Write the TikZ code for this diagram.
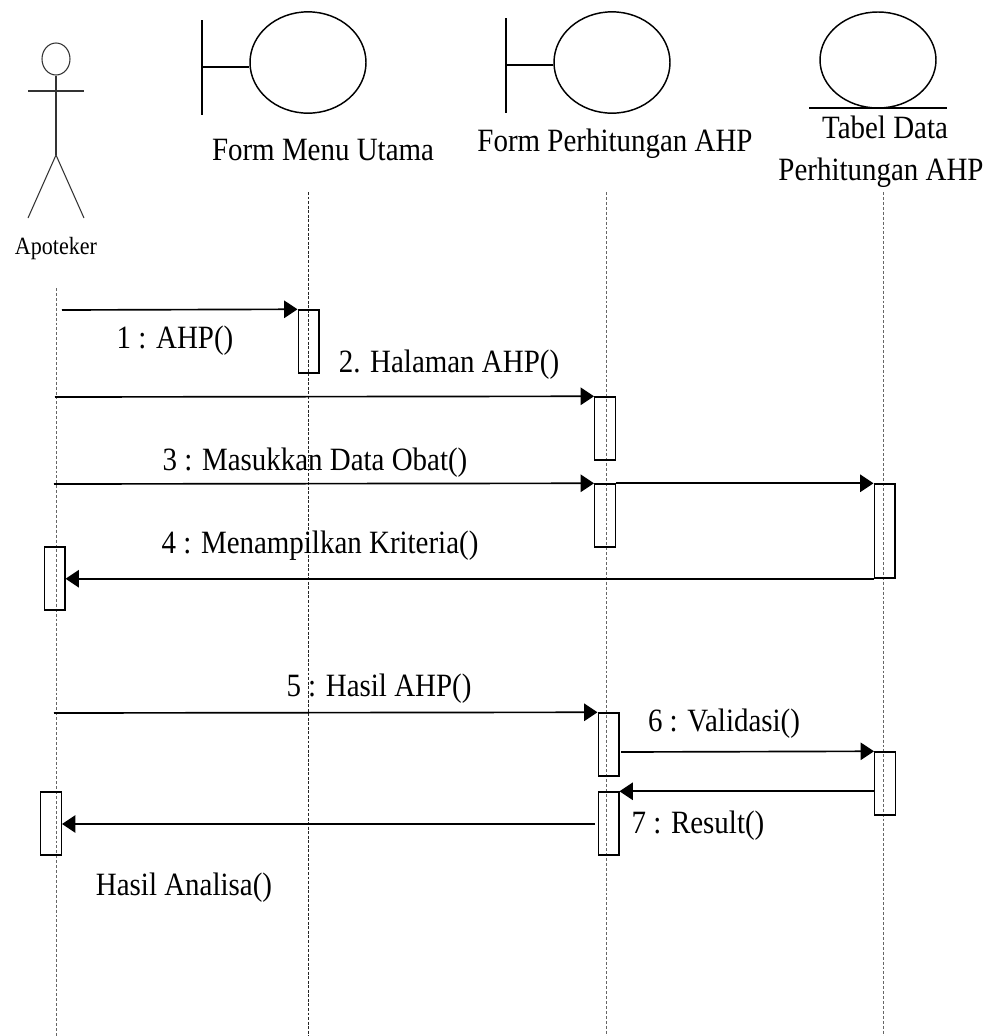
\documentclass[tikz,border=0pt]{standalone}
\usepackage{fontspec}
\setmainfont[FakeStretch=0.89]{Liberation Serif}
\usetikzlibrary{arrows.meta,shapes.geometric}
\tikzset{
  x=0.75pt,y=-0.75pt,
  life/.style={line width=0.6pt,dash pattern=on 2.2pt off 1.5pt,draw=black!60},
  lifedark/.style={line width=0.45pt,dash pattern=on 2.2pt off 1.2pt,draw=black!85},
  box/.style={draw,line width=1.1pt,minimum width=15.4pt,inner sep=0pt,fill=none},
  msg/.style={line width=1.25pt,-{Triangle[length=10pt,width=13pt]}},
  shapeline/.style={line width=1.1pt},
  actorline/.style={line width=0.8pt,draw=black!80},
  lbl/.style={anchor=base,inner sep=0pt,font=\fontsize{24.4pt}{28pt}\selectfont},
  small/.style={anchor=base,inner sep=0pt,font=\fontsize{18.6pt}{22pt}\selectfont},
}
\begin{document}
\begin{tikzpicture}
\useasboundingbox (0,0) rectangle (997,1036);
% lifelines
\coordinate (l1a) at (56,288); \coordinate (l1b) at (56,1036);
\coordinate (l2a) at (308.5,192); \coordinate (l2b) at (308.5,1036);
\coordinate (l3a) at (606.5,192); \coordinate (l3b) at (606.5,1036);
\coordinate (l4a) at (883,192); \coordinate (l4b) at (883,1036);
\draw[life] (l1a) -- (l1b);
\draw[lifedark] (l2a) -- (l2b);
\draw[life] (l3a) -- (l3b);
\draw[life] (l4a) -- (l4b);
% actor
\node[draw=black!80,line width=0.8pt,ellipse,minimum width=21pt,minimum height=24pt,inner sep=0pt] (head) at (56,59) {};
\coordinate (hip) at (56,155);
\coordinate (armL) at (28,91); \coordinate (armR) at (84,91);
\coordinate (legL) at (28,218); \coordinate (legR) at (84,218);
\draw[actorline] (head.south) -- (hip);
\draw[actorline] (armL) -- (armR);
\draw[actorline] (legL) -- (hip) -- (legR);
\node[small] (apoteker) at (56,254) {Apoteker};
% boundary 1
\node[draw,line width=1.1pt,ellipse,minimum width=87pt,minimum height=76pt,inner sep=0pt] (b1) at (308,62.5) {};
\coordinate (b1t) at (202,20); \coordinate (b1b) at (202,115); \coordinate (b1m) at (202,67);
\draw[shapeline] (b1t) -- (b1b);
\draw[shapeline] (b1m) -- (b1.west |- b1m);
\node[lbl] (t1) at (323,160) {Form Menu Utama};
% boundary 2
\node[draw,line width=1.1pt,ellipse,minimum width=87pt,minimum height=76pt,inner sep=0pt] (b2) at (612,62.5) {};
\coordinate (b2t) at (506,18); \coordinate (b2b) at (506,113); \coordinate (b2m) at (506,65);
\draw[shapeline] (b2t) -- (b2b);
\draw[shapeline] (b2m) -- (b2.west |- b2m);
\node[lbl] (t2) at (615,151) {Form Perhitungan AHP};
% entity
\node[draw,line width=1.1pt,ellipse,minimum width=87pt,minimum height=72pt,inner sep=0pt] (e) at (878,60) {};
\coordinate (eL) at (809,108); \coordinate (eR) at (947,108);
\draw[shapeline] (eL) -- (eR);
\node[lbl] (t3) at (885,138) {Tabel Data};
\node[lbl] (t4) at (881,180) {Perhitungan AHP};
% activations
\node[box,minimum height=47.25pt] (a1) at (308.5,341.5) {};
\node[box,minimum height=47.25pt] (a2) at (605,428.5) {};
\node[box,minimum height=47.25pt] (a3) at (605,515.5) {};
\node[box,minimum height=47.25pt] (a4) at (54.5,578.5) {};
\node[box,minimum height=70.5pt] (a6) at (884.5,531) {};
\node[box,minimum height=47.25pt] (a5) at (608.5,744.5) {};
\node[box,minimum height=47.25pt] (a7) at (608.5,823.5) {};
\node[box,minimum height=47.25pt] (a8) at (885,783.5) {};
\node[box,minimum height=47.25pt] (a9) at (51,823.5) {};
% free ends
\coordinate (s1) at (62,310);
\coordinate (s2) at (55,397);
\coordinate (s3) at (54,484);
\coordinate (s5) at (54,713);
\coordinate (s6) at (621,752);
\coordinate (s8) at (595,824);
% messages
\draw[msg] (s1) -- (a1.north west);
\draw[msg] (s2) -- (a2.north west);
\draw[msg] (s3) -- (a3.north west);
\draw[msg] (a3.north east) -- (a6.north west);
\draw[msg] (a6.south west) -- (a4.east |- a6.south west);
\draw[msg] (s5) -- (a5.north west);
\draw[msg] (s6) -- (a8.north west);
\draw[msg] (a8.west |- a7.north) -- (a7.north east);
\draw[msg] (s8) -- (a9.east |- s8);
% labels
\node[lbl] (m1) at (175,348) {1 : AHP()};
\node[lbl] (m2) at (449,372) {2. Halaman AHP()};
\node[lbl] (m3) at (315,470) {3 : Masukkan Data Obat()};
\node[lbl] (m4) at (320,553) {4 : Menampilkan Kriteria()};
\node[lbl] (m5) at (379,696) {5 : Hasil AHP()};
\node[lbl] (m6) at (724,731) {6 : Validasi()};
\node[lbl] (m7) at (698,833) {7 : Result()};
\node[lbl] (m8) at (184,895) {Hasil Analisa()};
\end{tikzpicture}
\end{document}
